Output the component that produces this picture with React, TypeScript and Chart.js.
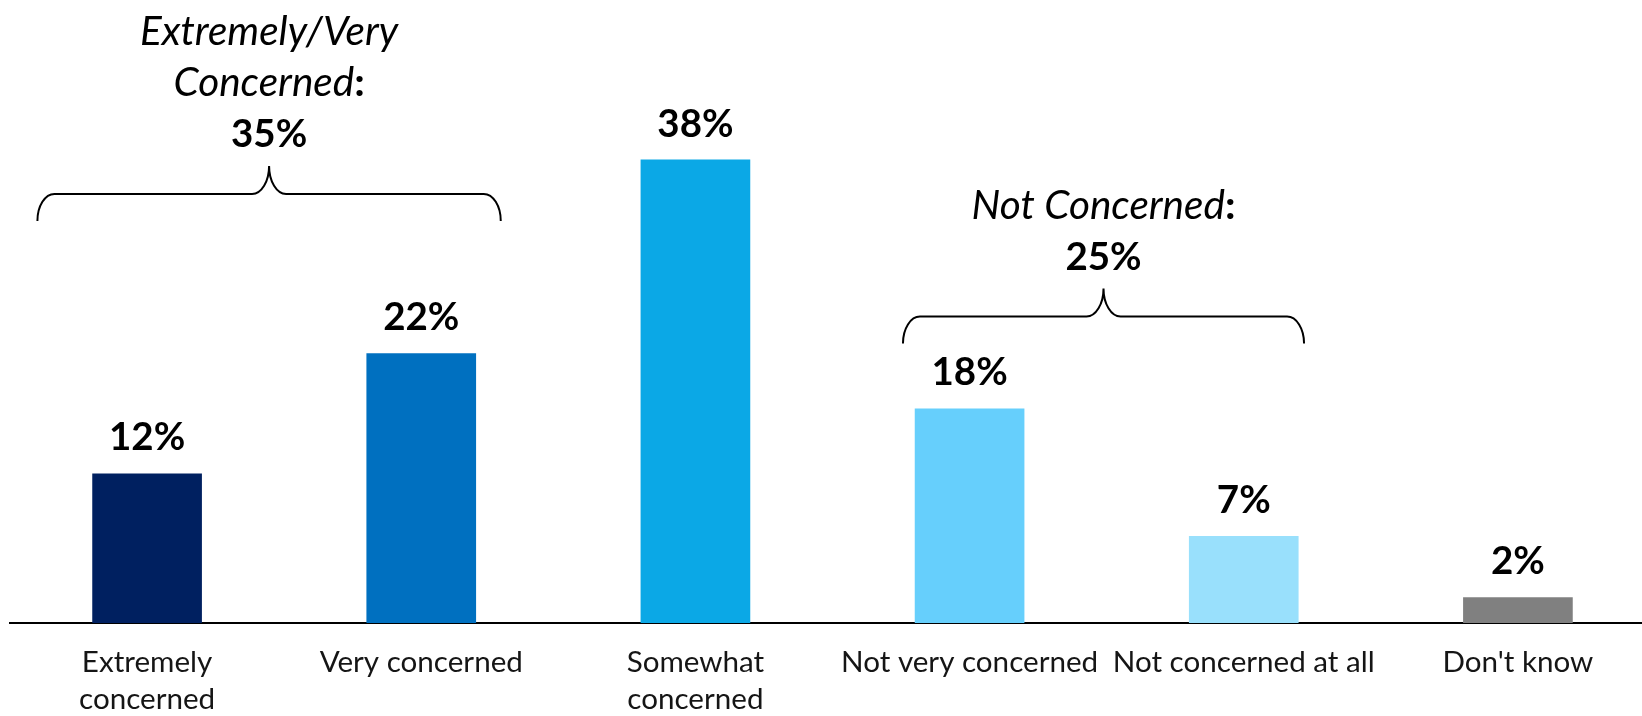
import React, { useEffect, useRef } from "react";
import { Chart, registerables } from "chart.js";

Chart.register(...registerables);

// ---- data ----
const categories: (string | string[])[] = [
  ["Extremely", "concerned"],
  "Very concerned",
  ["Somewhat", "concerned"],
  "Not very concerned",
  "Not concerned at all",
  "Don't know",
];
const values = [12.2, 22, 37.8, 17.5, 7.1, 2.1];
const valueLabels = ["12%", "22%", "38%", "18%", "7%", "2%"];
const barColors = ["#002060", "#0070C0", "#0BA8E6", "#66CFFC", "#99E0FC", "#808080"];

const groupTitles = [["Extremely/Very", "Concerned"], ["Not Concerned"]];
const groupTotals = [35, 25];
const groupTotalLabels = ["35%", "25%"];
const groupRanges = [
  [0, 1],
  [3, 4],
];

// ---- styles / layout ----
const FONT = "Lato, 'Open Sans', sans-serif";
const braceInsets = [
  [-0.4, 0.29],
  [-0.243, 0.22],
];

function drawParts(ctx: CanvasRenderingContext2D, parts: [string, string][], cx: number, y: number) {
  let total = 0;
  const widths = parts.map(([t, f]) => {
    ctx.font = f;
    const w = ctx.measureText(t).width;
    total += w;
    return w;
  });
  let x = cx - total / 2;
  ctx.textAlign = "left";
  parts.forEach(([t, f], i) => {
    ctx.font = f;
    ctx.fillText(t, x, y);
    x += widths[i];
  });
}

export default function App() {
  const ref = useRef<HTMLCanvasElement>(null);

  useEffect(() => {
    const canvas = ref.current!;
    const italic = `italic 40.5px ${FONT}`;
    const bold = `bold 38.5px ${FONT}`;
    const colon = `bold 41px ${FONT}`;

    const annot = {
      id: "annot",
      afterDraw(chart: any) {
        const ctx: CanvasRenderingContext2D = chart.ctx;
        const xs = chart.scales.x;
        const ys = chart.scales.y;
        const meta = chart.getDatasetMeta(0);
        ctx.save();
        ctx.fillStyle = "#000";
        ctx.textBaseline = "alphabetic";
        // value labels
        meta.data.forEach((bar: any, i: number) => {
          ctx.font = bold;
          ctx.textAlign = "center";
          ctx.fillText(valueLabels[i], bar.x, bar.y - 23);
        });
        // braces + group labels
        const cw = xs.getPixelForValue(1) - xs.getPixelForValue(0);
        groupTotals.forEach((tot, g) => {
          const [a, b] = groupRanges[g];
          const x1 = xs.getPixelForValue(a) + braceInsets[g][0] * cw;
          const x2 = xs.getPixelForValue(b) + braceInsets[g][1] * cw;
          const xm = (x1 + x2) / 2;
          const yH = ys.getPixelForValue(tot);
          const down = 27;
          const up = 28;
          const r = 17;
          const k = 0.552;
          ctx.beginPath();
          ctx.lineWidth = 2;
          ctx.strokeStyle = "#000";
          ctx.moveTo(x1, yH + down);
          ctx.bezierCurveTo(x1, yH + down - down * k, x1 + r - r * k, yH, x1 + r, yH);
          ctx.lineTo(xm - r, yH);
          ctx.bezierCurveTo(xm - r + r * k, yH, xm, yH - up + up * k, xm, yH - up);
          ctx.bezierCurveTo(xm, yH - up + up * k, xm + r - r * k, yH, xm + r, yH);
          ctx.lineTo(x2 - r, yH);
          ctx.bezierCurveTo(x2 - r + r * k, yH, x2, yH + down - down * k, x2, yH + down);
          ctx.stroke();

          const baseY = yH - 47;
          const titles = groupTitles[g];
          const n = titles.length;
          titles.forEach((t, li) => {
            const y = baseY - (n - li) * 51;
            const parts: [string, string][] = [[t, italic]];
            if (li === n - 1) parts.push([":", colon]);
            drawParts(ctx, parts, xm, y);
          });
          ctx.font = bold;
          ctx.textAlign = "center";
          ctx.fillText(groupTotalLabels[g], xm, baseY);
        });
        ctx.restore();
      },
    };

    const chart = new Chart(canvas, {
      type: "bar",
      data: {
        labels: categories,
        datasets: [
          {
            data: values,
            backgroundColor: barColors,
            borderWidth: 0,
            barPercentage: 0.4,
            categoryPercentage: 1,
          },
        ],
      },
      options: {
        responsive: false,
        animation: false,
        events: [],
        layout: { padding: { top: 10, left: 10, right: 5, bottom: 0 } },
        plugins: { legend: { display: false }, tooltip: { enabled: false } },
        scales: {
          x: {
            z: 1,
            grid: { display: false, drawTicks: false },
            border: { display: true, color: "#000", width: 2 },
            ticks: {
              color: "#151515",
              font: { family: FONT, size: 29.6, lineHeight: 37 / 29.6 },
              padding: 21,
              maxRotation: 0,
              minRotation: 0,
              autoSkip: false,
            },
          },
          y: { display: false, min: 0, max: 50 },
        },
      },
      plugins: [annot],
    } as any);
    return () => chart.destroy();
  }, []);

  return (
    <div
      style={{
        position: "absolute",
        left: 0,
        top: 0,
        width: 1642,
        height: 716,
        overflow: "hidden",
        background: "#fff",
      }}
    >
      <canvas ref={ref} width={1660} height={739} style={{ display: "block" }} />
    </div>
  );
}
